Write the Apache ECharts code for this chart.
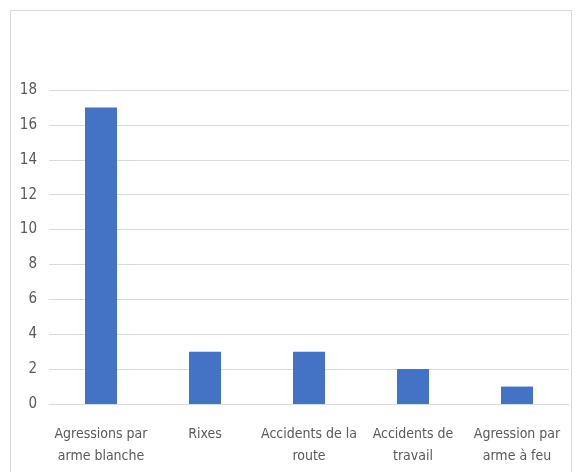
<!DOCTYPE html>
<html><head><meta charset="utf-8">
<script src="https://cdn.jsdelivr.net/npm/echarts@6/dist/echarts.min.js"></script>
<style>html,body{margin:0;padding:0;background:#fff}#c{width:576px;height:472px}</style>
</head><body><div id="c"></div>
<script>
const categories = ["Agressions par\narme blanche", "Rixes", "Accidents de la\nroute", "Accidents de\ntravail", "Agression par\narme à feu"];
const values = [17, 3, 3, 2, 1];
const yTicks = {min: 0, max: 18, interval: 2};

const font = "'DejaVu Sans Condensed', 'Liberation Sans Narrow', sans-serif";
const chart = echarts.init(document.getElementById('c'), null, {renderer: 'canvas'});
chart.setOption({
  animation: false,
  backgroundColor: '#fff',
  graphic: [{type: 'rect', shape: {x: 10.5, y: 10.5, width: 561, height: 470}, style: {fill: 'none', stroke: '#d9d9d9', lineWidth: 1}}],
  grid: {left: 49, right: 7, top: 90, bottom: 68, containLabel: false},
  xAxis: {
    type: 'category', data: categories,
    axisLine: {lineStyle: {color: '#d9d9d9', width: 1}},
    axisTick: {show: false},
    axisLabel: {color: '#595959', fontFamily: font, fontSize: 14, lineHeight: 22, margin: 19, interval: 0}
  },
  yAxis: {
    type: 'value', min: yTicks.min, max: yTicks.max, interval: yTicks.interval,
    axisLine: {show: false}, axisTick: {show: false},
    splitLine: {lineStyle: {color: '#d9d9d9', width: 1}},
    axisLabel: {color: '#595959', fontFamily: font, fontSize: 15, margin: 12}
  },
  series: [{type: 'bar', data: values, barWidth: 32, itemStyle: {color: '#4472C4'}}]
});
</script></body></html>
